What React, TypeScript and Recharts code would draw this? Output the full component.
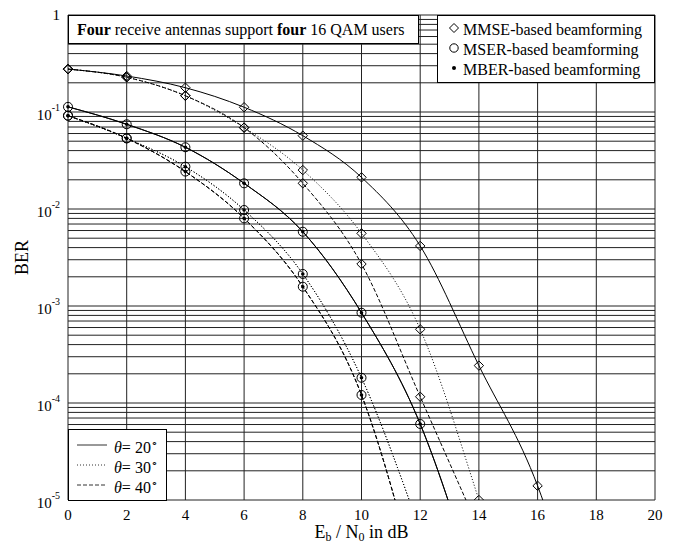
import React from "react";
import { LineChart, Line, XAxis, YAxis, CartesianGrid, Label } from "recharts";

// Eb/N0 in dB where the curves were sampled
const snr = [0, 2, 4, 6, 8, 10, 12, 14, 16, 18];

// BER; the last value of each list sits below 1e-5 and is clipped
const mmse20 = [0.277, 0.235, 0.178, 0.112, 0.057, 0.0212, 0.00416, 2.43e-4, 1.4e-5, 1.5e-7];
const mmse30 = [0.277, 0.228, 0.147, 0.069, 0.0252, 0.00561, 5.75e-4, 1.0e-5, 1e-7];
const mmse40 = [0.277, 0.228, 0.147, 0.069, 0.0184, 0.00271, 1.16e-4, 5e-6];
const mser20 = [0.113, 0.0747, 0.0433, 0.0184, 0.00583, 8.53e-4, 6.08e-5, 1e-6];
const mser30 = [0.0916, 0.0535, 0.0273, 0.00977, 0.00214, 1.82e-4, 4.8e-6];
const mser40 = [0.0916, 0.0535, 0.0243, 0.00801, 0.00158, 1.21e-4, 1.1e-6];
const mber20 = [0.113, 0.0747, 0.0433, 0.0184, 0.00583, 8.53e-4, 6.08e-5, 1e-6];
const mber30 = [0.0916, 0.0535, 0.0273, 0.00977, 0.00214, 1.82e-4, 4.8e-6];
const mber40 = [0.0916, 0.0535, 0.0243, 0.00801, 0.00158, 1.21e-4, 1.1e-6];

const xTicks = [0, 2, 4, 6, 8, 10, 12, 14, 16, 18, 20];
const decades = [-5, -4, -3, -2, -1];
const minorSteps = [1, 2, 3, 4, 5, 6, 7, 8, 9];

const methodLabels = ["MMSE-based beamforming", "MSER-based beamforming", "MBER-based beamforming"];
const angleLabels = ["20", "30", "40"];

const FONT = '"Liberation Serif", "Times New Roman", serif';
const DASHES = [undefined, "1 2", "4 2"];

const yTicks: number[] = [];
decades.forEach((d) => {
  minorSteps.forEach((m) => yTicks.push(Number((m * Math.pow(10, d)).toPrecision(3))));
});
yTicks.push(1);

const toRows = (values: number[]) => values.map((v, i) => ({ x: snr[i], ber: v }));

const Diamond = (props: any) => {
  const { cx, cy, index } = props;
  if (cx == null || cy == null) return <g key={`dm-${index}`} />;
  const s = 4.7;
  return (
    <path
      key={`dm-${index}`}
      d={`M${cx},${cy - s}L${cx + s},${cy}L${cx},${cy + s}L${cx - s},${cy}Z`}
      fill="none"
      stroke="#000"
      strokeWidth={1}
    />
  );
};

const Ring = (props: any) => {
  const { cx, cy, index } = props;
  if (cx == null || cy == null) return <g key={`rg-${index}`} />;
  return <circle key={`rg-${index}`} cx={cx} cy={cy} r={4.5} fill="none" stroke="#000" strokeWidth={1} />;
};

const Dot = (props: any) => {
  const { cx, cy, index } = props;
  if (cx == null || cy == null) return <g key={`dt-${index}`} />;
  return <circle key={`dt-${index}`} cx={cx} cy={cy} r={1.8} fill="#000" stroke="none" />;
};

const series = [
  { id: "mmse20", values: mmse20, dash: DASHES[0], dot: Diamond },
  { id: "mmse30", values: mmse30, dash: DASHES[1], dot: Diamond },
  { id: "mmse40", values: mmse40, dash: DASHES[2], dot: Diamond },
  { id: "mser20", values: mser20, dash: DASHES[0], dot: Ring },
  { id: "mser30", values: mser30, dash: DASHES[1], dot: Ring },
  { id: "mser40", values: mser40, dash: DASHES[2], dot: Ring },
  { id: "mber20", values: mber20, dash: DASHES[0], dot: Dot },
  { id: "mber30", values: mber30, dash: DASHES[1], dot: Dot },
  { id: "mber40", values: mber40, dash: DASHES[2], dot: Dot },
];

const YTick = (props: any) => {
  const { x, y, payload } = props;
  const lg = Math.log10(payload.value);
  const p = Math.round(lg);
  if (Math.abs(lg - p) > 1e-6) return <g />;
  if (p === 0) {
    return (
      <text x={x} y={y + 5} textAnchor="end" fontSize={15} fontFamily={FONT} fill="#000">
        1
      </text>
    );
  }
  return (
    <text x={x} y={y + 8} textAnchor="end" fontSize={15} fontFamily={FONT} fill="#000">
      10
      <tspan dy={-9} fontSize={10}>
        {`${p}`}
      </tspan>
    </text>
  );
};

const XTick = (props: any) => {
  const { x, y, payload } = props;
  return (
    <text x={x} y={y + 20} textAnchor="middle" fontSize={15} fontFamily={FONT} fill="#000">
      {payload.value}
    </text>
  );
};

const XTitle = (props: any) => {
  const vb = props.viewBox || { x: 68, y: 500, width: 587 };
  return (
    <text x={vb.x + vb.width / 2} y={vb.y + 38} textAnchor="middle" fontSize={18} fontFamily={FONT} fill="#000">
      E<tspan dy={3} fontSize={12}>b</tspan>
      <tspan dy={-3}> / N</tspan>
      <tspan dy={3} fontSize={12}>0</tspan>
      <tspan dy={-3}> in dB</tspan>
    </text>
  );
};

const YTitle = (props: any) => {
  const vb = props.viewBox || { x: 0, y: 15, height: 485 };
  const cx = vb.x + 27.5;
  const cy = vb.y + vb.height / 2;
  return (
    <text
      x={cx}
      y={cy}
      textAnchor="middle"
      fontSize={18}
      fontFamily={FONT}
      fill="#000"
      transform={`rotate(-90 ${cx} ${cy})`}
    >
      BER
    </text>
  );
};

const boxStyle: React.CSSProperties = {
  position: "absolute",
  boxSizing: "border-box",
  border: "1px solid #000",
  background: "#fff",
  fontFamily: FONT,
  fontSize: 16,
  color: "#000",
};

const rowStyle: React.CSSProperties = {
  display: "flex",
  alignItems: "center",
  height: 20,
  lineHeight: "20px",
  whiteSpace: "nowrap",
};

const MarkerIcon = ({ kind }: { kind: number }) => (
  <svg width={10} height={20} style={{ display: "block", marginRight: 4 }}>
    {kind === 0 && <path d="M5,3.5L9.5,8L5,12.5L0.5,8Z" fill="none" stroke="#000" />}
    {kind === 1 && <circle cx={5} cy={8} r={4.2} fill="none" stroke="#000" />}
    {kind === 2 && <circle cx={5} cy={8} r={2} fill="#000" />}
  </svg>
);

export default function App() {
  return (
    <div style={{ position: "absolute", left: 0, top: 0, width: 676, height: 546, background: "#fff" }}>
      <LineChart width={676} height={546} margin={{ top: 15, right: 21, bottom: 0, left: 0 }}>
        <CartesianGrid stroke="#222" strokeWidth={1} />
        <XAxis
          type="number"
          dataKey="x"
          domain={[0, 20]}
          ticks={xTicks}
          interval={0}
          height={46}
          axisLine={false}
          tickLine={false}
          tickSize={0}
          tickMargin={0}
          tick={XTick}
        >
          <Label content={XTitle} />
        </XAxis>
        <YAxis
          type="number"
          scale="log"
          domain={[1e-5, 1]}
          allowDataOverflow
          ticks={yTicks}
          interval={0}
          width={68}
          axisLine={false}
          tickLine={false}
          tickSize={0}
          tickMargin={8}
          tick={YTick}
        >
          <Label content={YTitle} />
        </YAxis>
        {series.map((s) => (
          <Line
            key={s.id}
            data={toRows(s.values)}
            dataKey="ber"
            type="monotone"
            stroke="#000"
            strokeWidth={1}
            strokeDasharray={s.dash}
            dot={s.dot}
            activeDot={false}
            isAnimationActive={false}
          />
        ))}
      </LineChart>

      <div style={{ ...boxStyle, left: 68, top: 15, width: 351, height: 29, lineHeight: "27px", paddingLeft: 8 }}>
        <b>Four</b> receive antennas support <b>four</b> 16 QAM users
      </div>

      <div style={{ ...boxStyle, left: 437, top: 15, width: 218, height: 68, paddingTop: 4, paddingLeft: 11 }}>
        {methodLabels.map((m, i) => (
          <div key={m} style={rowStyle}>
            <MarkerIcon kind={i} />
            <span>{m}</span>
          </div>
        ))}
      </div>

      <div style={{ ...boxStyle, left: 68, top: 429, width: 99, height: 72, paddingTop: 5, paddingLeft: 8 }}>
        {angleLabels.map((a, i) => (
          <div key={a} style={rowStyle}>
            <svg width={30} height={20} style={{ display: "block", marginRight: 7 }}>
              <line x1={0} y1={10} x2={30} y2={10} stroke="#333" strokeWidth={1} strokeDasharray={DASHES[i]} />
            </svg>
            <span>
              <i>θ</i>= {a}
              <span style={{ fontSize: 11, verticalAlign: "6px" }}>∘</span>
            </span>
          </div>
        ))}
      </div>
    </div>
  );
}
